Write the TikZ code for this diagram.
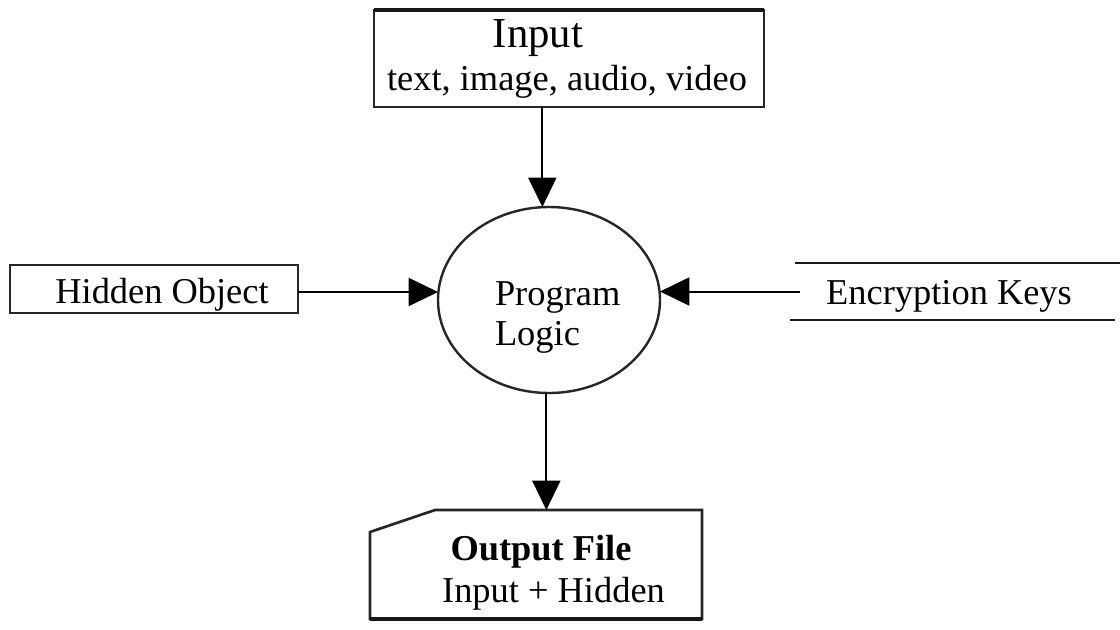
\documentclass[tikz,border=0pt]{standalone}
\usepackage{fontspec}
\setmainfont{Liberation Serif}
\usetikzlibrary{arrows.meta,shapes.geometric,calc}
\begin{document}
\begin{tikzpicture}[x=0.75pt,y=-0.75pt,
  txt/.style={inner sep=0pt,outer sep=0pt,font=\fontsize{27.3}{30}\selectfont,text=black},
  bigtxt/.style={inner sep=0pt,outer sep=0pt,font=\fontsize{32}{36}\selectfont,text=black},
  boxed/.style={draw=black!85,line width=1.5pt,inner sep=0pt,outer sep=0pt},
  hole/.style={inner sep=0pt,outer sep=0pt},
  flow/.style={draw=black,line width=1.5pt,-{Triangle[length=22pt,width=21pt]}},
  rule/.style={draw=black!90,line width=2.2pt}]
\useasboundingbox (0,0) rectangle (1120,629);

% input source
\node[boxed,minimum width=292.5pt,minimum height=72.75pt] (input) at (569,58.5) {};
\draw[line width=3pt,black!90] (input.north west) -- (input.north east);
\node[bigtxt,anchor=base] (inputTitle) at (538,47) {Input};
\node[txt,anchor=base] (inputTypes) at (567,90) {text, image, audio, video};

% processing step
\node[boxed,ellipse,line width=1.8pt,minimum width=166.5pt,minimum height=139.5pt] (logic) at (549,300) {};
\node[txt,anchor=base west] (logicA) at (495,305) {Program};
\node[txt,anchor=base west] (logicB) at (495,345) {Logic};

% hidden object
\node[boxed,minimum width=216pt,minimum height=36pt] (hidden) at (154,289) {};
\node[txt,anchor=base] (hiddenText) at (162,303) {Hidden Object};

% key store (open-ended)
\node[hole,minimum width=236.25pt,minimum height=42.75pt] (keys) at (957.5,291.5) {};
\draw[rule] (795,263) -- (1120,263);
\draw[rule] (790,320) -- (1115,320);
\node[txt,anchor=base] (keysText) at (949,304) {Encryption Keys};

% output document
\node[hole,minimum width=249pt,minimum height=81.75pt] (output) at (536,564.5) {};
\draw[black!85,line width=2pt,line join=miter]
  ($(output.north west)+(0,22)$) -- ($(output.north west)+(65,0)$)
  -- (output.north east) -- (output.south east) -- (output.south west) -- cycle;
\draw[black!90,line width=3pt] (output.south west) -- (output.south east);
\node[txt,anchor=base,font=\fontsize{27.3}{30}\selectfont\bfseries] (outTitle) at (541,560) {Output File};
\node[txt,anchor=base] (outBody) at (553.5,602) {Input + Hidden};

% flows
\draw[flow] ([xshift=-5pt]logic.north |- input.south) -- ([xshift=-5pt]logic.north);
\draw[flow] ([yshift=-2.25pt]hidden.east) -- ([yshift=-2.25pt]logic.west |- hidden.east);
\draw[flow] (keys.west) -- (logic.east |- keys.west);
\draw[flow] ([xshift=-2pt]logic.south) -- ([xshift=-2pt]logic.south |- output.north);
\end{tikzpicture}
\end{document}
